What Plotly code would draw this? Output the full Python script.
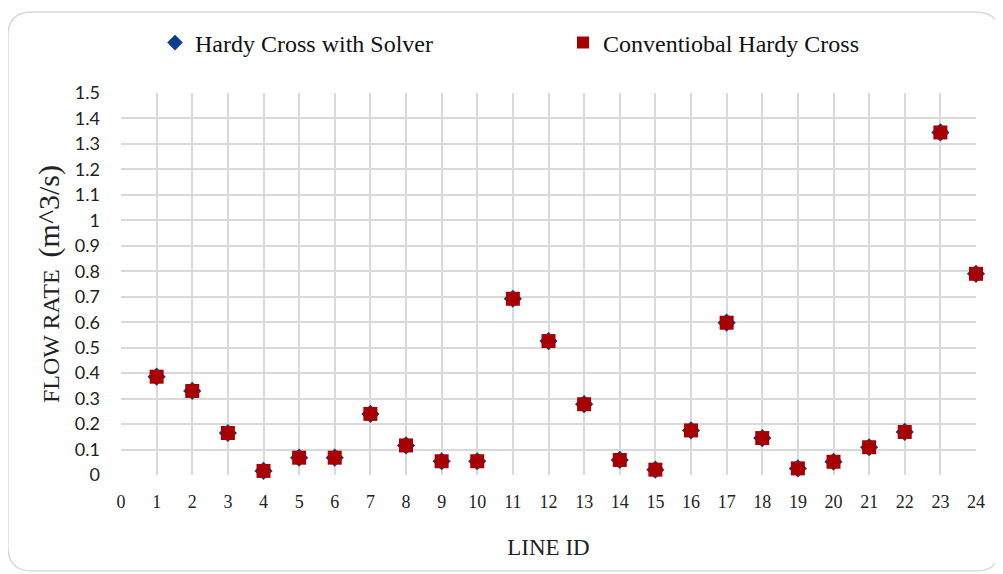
import plotly.graph_objects as go

# Données
line_id = list(range(1, 25))
debit_solver = [0.386, 0.330, 0.165, 0.016, 0.068, 0.068, 0.240, 0.116, 0.054, 0.054,
                0.692, 0.526, 0.278, 0.059, 0.021, 0.175, 0.598, 0.145, 0.026, 0.052,
                0.109, 0.169, 1.345, 0.790]
debit_conventionnel = [0.386, 0.330, 0.165, 0.016, 0.068, 0.068, 0.240, 0.116, 0.054, 0.054,
                       0.692, 0.526, 0.278, 0.059, 0.021, 0.175, 0.598, 0.145, 0.026, 0.052,
                       0.109, 0.169, 1.345, 0.790]
x_ticks = list(range(0, 25))
y_ticks = [round(i * 0.1, 1) for i in range(16)]
y_labels = [f"{v:g}" for v in y_ticks]

fig = go.Figure()
fig.add_trace(go.Scatter(
    x=line_id, y=debit_solver, mode="markers", name="Hardy Cross with Solver",
    marker=dict(symbol="diamond", size=14, color="#0a3d8f"), cliponaxis=False,
))
fig.add_trace(go.Scatter(
    x=line_id, y=debit_conventionnel, mode="markers", name="Conventiobal Hardy Cross",
    marker=dict(symbol="square", size=14, color="#a80000"), cliponaxis=False,
))

# la page ajoute une marge de 8 px : coordonnées écran - 8
l, r, t, b = 113, 35, 85, 107
pw, ph = 1003 - l - r, 574 - t - b
bas = 574 - b
x0, x1 = (0 - l) / pw, (992 - l) / pw
y0, y1 = (bas - 563) / ph, (bas - 4) / ph
rx, ry = 24 / pw, 24 / ph
path = (f"M {x0 + rx} {y1} L {x1 - rx} {y1} Q {x1} {y1} {x1} {y1 - ry} "
        f"L {x1} {y0 + ry} Q {x1} {y0} {x1 - rx} {y0} L {x0 + rx} {y0} "
        f"Q {x0} {y0} {x0} {y0 + ry} L {x0} {y1 - ry} Q {x0} {y1} {x0 + rx} {y1} Z")
fig.add_shape(type="path", path=path, xref="paper", yref="paper",
              line=dict(color="#d9d9d9", width=1.5), layer="below")

fig.update_layout(
    width=1003, height=574,
    margin=dict(l=l, r=r, t=t, b=b, autoexpand=False),
    paper_bgcolor="white", plot_bgcolor="white",
    showlegend=True,
    legend=dict(
        orientation="h", x=(147 - l) / pw, xanchor="left", y=(bas - 35) / ph, yanchor="middle",
        font=dict(family="Liberation Serif", size=24, color="#111111"),
        entrywidth=363, entrywidthmode="pixels", itemsizing="constant",
        bgcolor="rgba(0,0,0,0)",
    ),
    xaxis=dict(
        range=[0, 24], tickmode="array", tickvals=x_ticks, automargin=False,
        showgrid=True, gridcolor="#d9d9d9", gridwidth=1.5, zeroline=False,
        showline=False, ticks="", ticklabelstandoff=14,
        tickfont=dict(family="Liberation Serif", size=18, color="#222222"),
        title=dict(text="LINE ID", font=dict(family="Liberation Serif", size=23, color="#222222"),
                   standoff=27),
    ),
    yaxis=dict(
        range=[0, 1.5], tickmode="array", tickvals=y_ticks, ticktext=y_labels, automargin=False,
        showgrid=True, gridcolor="#d9d9d9", gridwidth=1.5, zeroline=False,
        showline=False, ticks="", ticklabelstandoff=20,
        tickfont=dict(family="Lato", size=18, color="#222222"),
        title=dict(text="FLOW RATE  <span style='font-size:30px'>(m^3/s)</span>",
                   font=dict(family="Liberation Serif", size=24, color="#222222"),
                   standoff=8),
    ),
)

fig.write_html("out.html")
